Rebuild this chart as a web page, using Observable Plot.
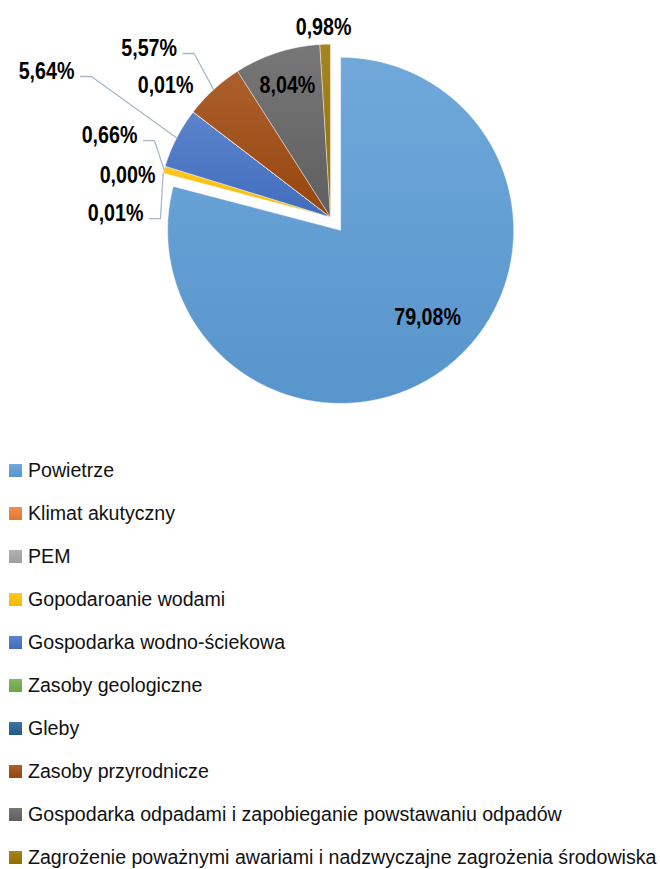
<!DOCTYPE html>
<html><head><meta charset="utf-8">
<script src="https://cdn.jsdelivr.net/npm/d3@7"></script>
<script src="https://cdn.jsdelivr.net/npm/@observablehq/plot@0.6"></script>
<style>
body{margin:0;background:#fff;}
#chart svg{display:block}
.legend{margin-top:8.5px;padding-left:9px;font-family:"Liberation Sans",Arial,sans-serif;font-size:19.6px;color:#111;}
.item{display:flex;align-items:center;height:43px;white-space:nowrap}
.sw{width:13px;height:13px;margin-right:6px;flex:none}
.item span{display:inline-block}
</style></head><body>
<div id="chart"></div>
<div class="legend" id="legend"></div>
<script>
const categories = [
  "Powietrze",
  "Klimat akutyczny",
  "PEM",
  "Gopodaroanie wodami",
  "Gospodarka wodno-ściekowa",
  "Zasoby geologiczne",
  "Gleby",
  "Zasoby przyrodnicze",
  "Gospodarka odpadami i zapobieganie powstawaniu odpadów",
  "Zagrożenie poważnymi awariami i nadzwyczajne zagrożenia środowiska"
];
const values = [79.08, 0.01, 0.00, 0.66, 5.64, 0.01, 0.00, 5.57, 8.04, 0.98];
const colors = ["#5B9BD5","#ED7D31","#A5A5A5","#FFC000","#4472C4","#70AD47","#255E91","#9E480E","#636363","#997300"];
const showLabel = [true,true,true,true,true,true,false,true,true,true];

// ---- layout (unit = pie radius, origin = pie centre, y up) ----
const W = 660, H = 440, R = 173, CX = 330, CY = 216.7;
const EXPLODE = 16.6 / R;
const explodeIdx = 0;
const labelX = [0.561, -1.081, -1.012, -1.116, -1.480, -0.792, 0, -0.887, -0.249, -0.040];
const labelY = [-0.580, 0.024, 0.241, 0.475, 0.845, 0.761, 0, 0.978, 0.761, 1.097];
const labelAnchor = ["middle","end","end","end","end","end","end","end","middle","middle"];
const hasLeader = [false,true,false,true,true,false,false,true,false,false];

const fmt = v => d3.format(".2f")(v).replace(".", ",") + "%";
const data = categories.map((c, i) => ({key: c, value: values[i], i}));
const arcs = d3.pie().sort(null).value(d => d.value).startAngle(0).endAngle(2 * Math.PI)(data);

// slice polygons
const slicePts = [];
arcs.forEach(a => {
  const i = a.data.i;
  const mid = (a.startAngle + a.endAngle) / 2;
  const off = i === explodeIdx ? EXPLODE : 0;
  const ox = off * Math.sin(mid), oy = off * Math.cos(mid);
  slicePts.push({k: i, x: ox, y: oy});
  const n = Math.max(2, Math.ceil((a.endAngle - a.startAngle) / (0.25 * Math.PI / 180)));
  for (let j = 0; j <= n; j++) {
    const t = a.startAngle + (a.endAngle - a.startAngle) * j / n;
    slicePts.push({k: i, x: ox + Math.sin(t), y: oy + Math.cos(t)});
  }
  slicePts.push({k: i, x: ox, y: oy});
});

// labels
const labels = arcs.filter(a => showLabel[a.data.i]).map(a => {
  const i = a.data.i;
  return {x: labelX[i], y: labelY[i], text: fmt(a.data.value), anchor: labelAnchor[i]};
});

// leader lines
const px = p => p / R;
const leaderPts = [];
arcs.forEach(a => {
  const i = a.data.i;
  if (!hasLeader[i]) return;
  const mid = (a.startAngle + a.endAngle) / 2;
  const ly = labelY[i] - px(5.5);
  leaderPts.push({k: i, x: labelX[i] + px(6), y: ly});
  leaderPts.push({k: i, x: labelX[i] + px(17), y: ly});
  leaderPts.push({k: i, x: Math.sin(mid), y: Math.cos(mid)});
});

const FONT = '"Liberation Sans",Arial,sans-serif';

const svg = Plot.plot({
  width: W, height: H, margin: 0,
  x: {domain: [-CX / R, (W - CX) / R], range: [0, W], axis: null},
  y: {domain: [-(H - CY) / R, CY / R], range: [H, 0], axis: null},
  color: {type: "identity"},
  style: {fontFamily: FONT, background: "#fff"},
  marks: [
    Plot.line(slicePts, {x: "x", y: "y", z: "k", fill: d => `url(#g${d.k})`, stroke: "#ffffff", strokeWidth: 0.6, strokeOpacity: 0.7, curve: "linear"}),
    Plot.line(leaderPts, {x: "x", y: "y", z: "k", stroke: "#a9b8ca", strokeWidth: 1.3}),
    Plot.text(labels.filter(d => d.anchor === "end"), {x: "x", y: "y", text: "text", textAnchor: "end", fontSize: 24, fontWeight: "bold", fill: "#000", fontFamily: FONT, className: "lbl"}),
    Plot.text(labels.filter(d => d.anchor === "middle"), {x: "x", y: "y", text: "text", textAnchor: "middle", fontSize: 24, fontWeight: "bold", fill: "#000", fontFamily: FONT, className: "lbl"})
  ]
});

// narrow the label glyphs (Arial Narrow look) around their anchor points
d3.select(svg).selectAll("g.lbl text").each(function() {
  const t = this.getAttribute("transform") || "";
  this.setAttribute("transform", t + " scale(0.82,1)");
});

const topCol = c => d3.interpolateRgb(c, "#ffffff")(0.13);
const botCol = c => d3.rgb(c).darker(0.12).formatHex();
const defs = d3.select(svg).insert("defs", ":first-child");
colors.forEach((c, i) => {
  const g = defs.append("linearGradient").attr("id", "g" + i).attr("x1", 0).attr("y1", 0).attr("x2", 0).attr("y2", 1);
  g.append("stop").attr("offset", "0%").attr("stop-color", topCol(c));
  g.append("stop").attr("offset", "100%").attr("stop-color", botCol(c));
});
document.getElementById("chart").appendChild(svg);

const legend = d3.select("#legend");
categories.forEach((c, i) => {
  const it = legend.append("div").attr("class", "item");
  it.append("div").attr("class", "sw").style("background", `linear-gradient(${topCol(colors[i])}, ${botCol(colors[i])})`);
  it.append("span").text(c);
});
</script>
</body></html>
